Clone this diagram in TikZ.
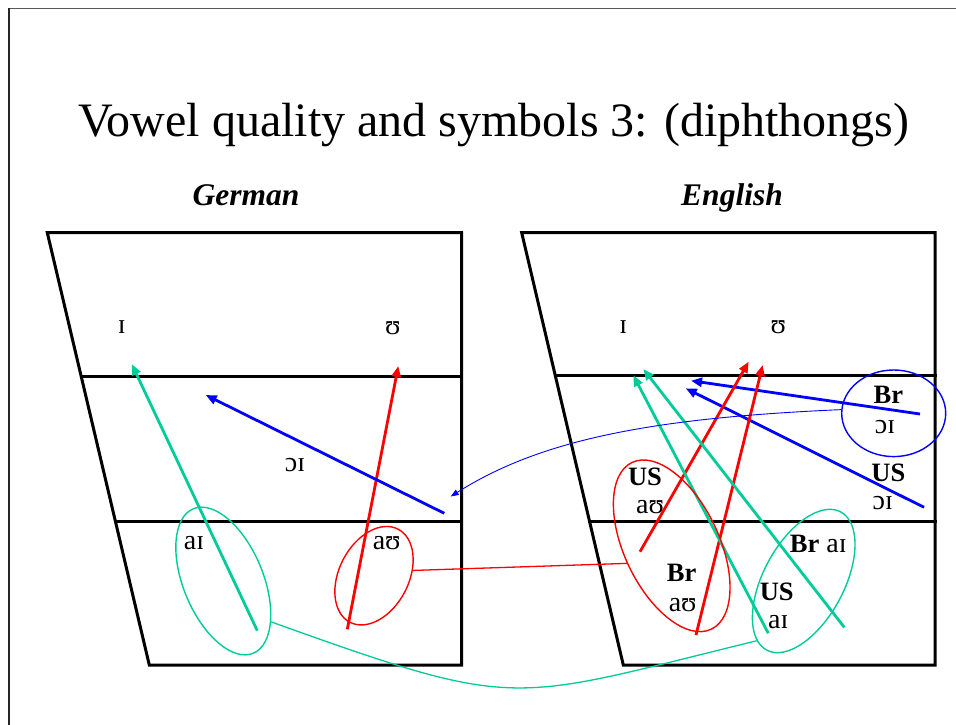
\documentclass[tikz,border=0pt]{standalone}
\usepackage{fontspec}
\setmainfont{Liberation Serif}
\usetikzlibrary{shapes.geometric,arrows.meta}
\definecolor{tg}{RGB}{0,204,153}
\definecolor{rd}{RGB}{255,0,0}
\definecolor{bl}{RGB}{0,0,255}
\tikzset{
  chartline/.style={line width=3pt, line cap=rect, line join=miter},
  vowarrow/.style={line width=2.8pt, -{Triangle[length=11pt,width=9pt]}},
  ring/.style={draw, ellipse, line width=1.4pt, inner sep=0pt},
  linkline/.style={line width=1.3pt},
  lbl/.style={inner sep=0pt, font=\fontsize{28}{30}\selectfont},
  blbl/.style={inner sep=0pt, font=\fontsize{26.5}{28}\selectfont\bfseries},
  head/.style={inner sep=0pt, anchor=base, font=\fontsize{31.5}{33}\selectfont\bfseries\itshape},
}
\begin{document}
\begin{tikzpicture}[x=1pt,y=-1pt]
\useasboundingbox (0,0) rectangle (956,725);
% frame
\draw[black!65, line width=1.2pt] (9,8.5) -- (956,8.5);
\draw[black!85, line width=1.3pt] (9,8.5) -- (9,725);
% title
\node[anchor=base, inner sep=0pt, font=\fontsize{48}{50}\selectfont] (title) at (494,136) {Vowel quality and symbols 3: (diphthongs)};
\node[head] (german) at (246,205) {German};
\node[head] (english) at (732,205) {English};
% German chart
\draw[chartline] (47.3,232.7) -- (461.7,232.7) -- (461.7,665) -- (149.3,665) -- cycle;
\draw[chartline] (81.1,376) -- (461.7,376);
\draw[chartline] (115.3,521) -- (461.7,521);
% English chart
\draw[chartline] (521.7,232.7) -- (935,232.7) -- (935,665) -- (623.3,665) -- cycle;
\draw[chartline] (555.2,375.5) -- (935,375.5);
\draw[chartline] (589.3,521) -- (935,521);
% German labels
\node[lbl] (gI) at (121.7,327.3) {ɪ};
\node[lbl] (gU) at (392.7,328.3) {ʊ};
\node[lbl] (goi) at (295,465) {ɔɪ};
\node[lbl] (gaiL) at (194,543.3) {aɪ};
\node[lbl] (gauL) at (386.7,543.3) {aʊ};
% English labels
\node[lbl] (eI) at (623.3,326.7) {ɪ};
\node[lbl] (eU) at (778.3,327.3) {ʊ};
\node[blbl] (brA) at (888.3,395) {Br};
\node[lbl] (broi) at (885,426.7) {ɔɪ};
\node[blbl] (usA) at (888.3,472.7) {US};
\node[lbl] (usoi) at (882.7,503.3) {ɔɪ};
\node[blbl] (usB) at (645,477.3) {US};
\node[lbl] (usau) at (650,507.3) {aʊ};
\node[blbl] (brB) at (681.7,573.3) {Br};
\node[lbl] (brau) at (682.7,605) {aʊ};
\node[lbl] (brai) at (818.3,544) {{\fontsize{26.5}{28}\selectfont\bfseries Br} aɪ};
\node[blbl] (usC) at (776.7,591.7) {US};
\node[lbl] (usai) at (778.3,621.7) {aɪ};
% arrow end points
\coordinate (g1s) at (257.3,630.7); \coordinate (g1e) at (131.7,364);
\coordinate (r1s) at (347.3,629.3); \coordinate (r1e) at (398.3,366);
\coordinate (b1s) at (444.3,513.3); \coordinate (b1e) at (205.7,395);
\coordinate (eb1s) at (920,414);    \coordinate (eb1e) at (691,380.7);
\coordinate (eb2s) at (924,507.3);  \coordinate (eb2e) at (685.7,388.3);
\coordinate (er1s) at (640,551.7);  \coordinate (er1e) at (748.7,361.7);
\coordinate (er2s) at (696,635);    \coordinate (er2e) at (762.7,365);
\coordinate (eg1s) at (768.3,633.3); \coordinate (eg1e) at (633.3,375.3);
\coordinate (eg2s) at (844.3,627.3); \coordinate (eg2e) at (643.3,369);
% German arrows
\draw[vowarrow, tg] (g1s) -- (g1e);
\draw[vowarrow, rd] (r1s) -- (r1e);
\draw[vowarrow, bl] (b1s) -- (b1e);
% English arrows
\draw[vowarrow, bl] (eb1s) -- (eb1e);
\draw[vowarrow, bl] (eb2s) -- (eb2e);
\draw[vowarrow, rd] (er1s) -- (er1e);
\draw[vowarrow, rd] (er2s) -- (er2e);
\draw[vowarrow, tg] (eg1s) -- (eg1e);
\draw[vowarrow, tg] (eg2s) -- (eg2e);
% ellipses
\node[ring, tg, minimum width=79.8pt, minimum height=156.4pt, rotate=22.5] (gai) at (223.3,581) {};
\node[ring, rd, minimum width=69.6pt, minimum height=104.8pt, rotate=-27.3] (gau) at (374,575.7) {};
\node[ring, bl, minimum width=104pt, minimum height=86.6pt] (eoi) at (893.7,413.3) {};
\node[ring, rd, minimum width=94.8pt, minimum height=184.6pt, rotate=25.4] (eau) at (671.7,545.8) {};
\node[ring, tg, minimum width=80.6pt, minimum height=156.8pt, rotate=-28.2] (eai) at (803.7,581) {};
% links between charts
\coordinate (oitip) at (450.7,496.5);
\draw[linkline, rd] (gau.35) -- (eau.176);
\draw[linkline, tg] (gai.-63) .. controls (521.7,711.7) and (507,701.8) .. (eai.260);
\draw[line width=0.9pt, bl, -{Triangle[length=8pt,width=6pt]}] (eoi.176) .. controls (650,418) and (540,440) .. (oitip);
\end{tikzpicture}
\end{document}
